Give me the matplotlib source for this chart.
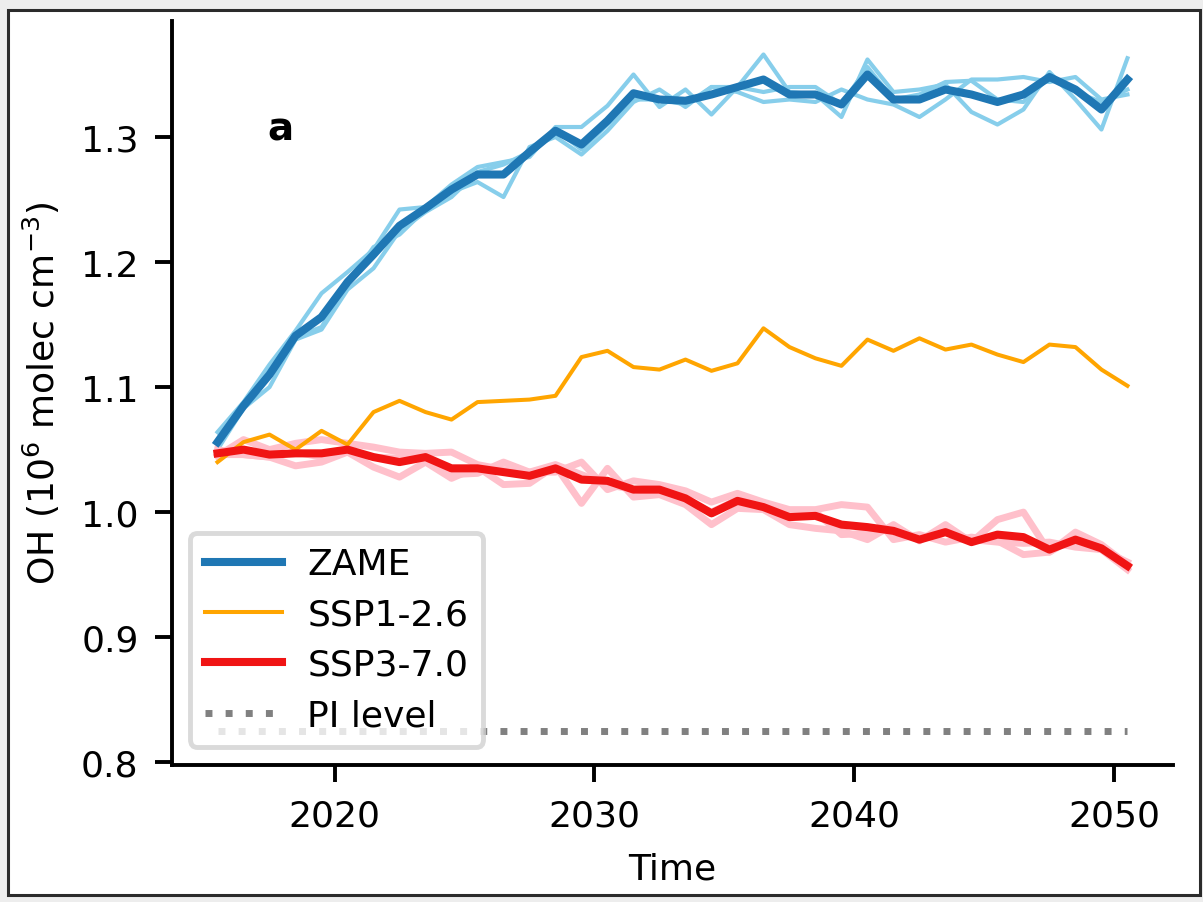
import numpy as np
import matplotlib
matplotlib.use("Agg")
import matplotlib.pyplot as plt
from matplotlib.patches import Rectangle

# annual means, mid-year time axis
years = np.arange(2015.5, 2051.0, 1.0)

zame_mean = [1.056, 1.085, 1.110, 1.141, 1.156, 1.184, 1.206, 1.229, 1.243, 1.258,
             1.270, 1.270, 1.288, 1.305, 1.294, 1.313, 1.335, 1.330, 1.329, 1.334,
             1.340, 1.346, 1.334, 1.334, 1.326, 1.350, 1.330, 1.330, 1.338, 1.334,
             1.328, 1.334, 1.348, 1.338, 1.322, 1.346]
zame_members = [
    [1.064, 1.088, 1.118, 1.145, 1.175, 1.192, 1.210, 1.242, 1.244, 1.262,
     1.276, 1.280, 1.284, 1.308, 1.308, 1.325, 1.350, 1.324, 1.338, 1.318,
     1.340, 1.366, 1.336, 1.334, 1.316, 1.362, 1.336, 1.338, 1.342, 1.320,
     1.310, 1.322, 1.352, 1.330, 1.306, 1.363],
    [1.056, 1.084, 1.112, 1.140, 1.148, 1.182, 1.212, 1.222, 1.242, 1.256,
     1.264, 1.252, 1.292, 1.300, 1.286, 1.305, 1.328, 1.338, 1.324, 1.340,
     1.336, 1.328, 1.330, 1.328, 1.338, 1.330, 1.326, 1.316, 1.330, 1.346,
     1.346, 1.348, 1.344, 1.348, 1.330, 1.334],
    [1.050, 1.083, 1.100, 1.138, 1.146, 1.178, 1.195, 1.225, 1.240, 1.252,
     1.272, 1.278, 1.288, 1.306, 1.290, 1.310, 1.330, 1.330, 1.326, 1.340,
     1.340, 1.336, 1.340, 1.340, 1.326, 1.356, 1.330, 1.334, 1.344, 1.345,
     1.330, 1.328, 1.348, 1.336, 1.328, 1.338],
]

ssp126 = [1.040, 1.056, 1.062, 1.050, 1.065, 1.054, 1.080, 1.089, 1.080, 1.074,
          1.088, 1.089, 1.090, 1.093, 1.124, 1.129, 1.116, 1.114, 1.122, 1.113,
          1.119, 1.147, 1.132, 1.123, 1.117, 1.138, 1.129, 1.139, 1.130, 1.134,
          1.126, 1.120, 1.134, 1.132, 1.114, 1.101]

ssp370_mean = [1.047, 1.050, 1.046, 1.047, 1.047, 1.050, 1.044, 1.040, 1.044, 1.035,
               1.035, 1.032, 1.029, 1.035, 1.026, 1.025, 1.018, 1.018, 1.011, 0.999,
               1.009, 1.004, 0.996, 0.997, 0.990, 0.988, 0.985, 0.978, 0.984, 0.976,
               0.982, 0.980, 0.970, 0.978, 0.971, 0.957]
ssp370_members = [
    [1.050, 1.046, 1.044, 1.037, 1.040, 1.048, 1.036, 1.028, 1.040, 1.027,
     1.036, 1.022, 1.023, 1.037, 1.007, 1.035, 1.012, 1.014, 1.006, 0.990,
     1.003, 1.002, 0.990, 0.987, 0.985, 0.978, 0.990, 0.977, 0.990, 0.976,
     0.994, 1.000, 0.968, 0.980, 0.970, 0.954],
    [1.045, 1.058, 1.050, 1.055, 1.058, 1.055, 1.052, 1.048, 1.047, 1.048,
     1.038, 1.034, 1.032, 1.032, 1.040, 1.018, 1.025, 1.022, 1.017, 1.008,
     1.015, 1.008, 1.002, 1.002, 1.006, 1.004, 0.978, 0.982, 0.976, 0.980,
     0.977, 0.966, 0.968, 0.984, 0.974, 0.958],
    [1.046, 1.046, 1.044, 1.048, 1.044, 1.048, 1.044, 1.043, 1.045, 1.030,
     1.031, 1.040, 1.032, 1.038, 1.030, 1.022, 1.018, 1.020, 1.010, 1.000,
     1.010, 1.004, 0.997, 1.000, 0.982, 0.983, 0.988, 0.978, 0.984, 0.978,
     0.976, 0.975, 0.976, 0.972, 0.970, 0.960],
]

pi_level = 0.825

fig = plt.figure(figsize=(12.03, 9.03), dpi=100, facecolor="#ededed")
fig.patches.append(Rectangle((8 / 1203, 7 / 903), 1192 / 1203, 885 / 903,
                             transform=fig.transFigure, facecolor="white",
                             edgecolor="#2b2b2b", linewidth=2.2, zorder=-10))

ax = fig.add_axes([0.143, 0.152, 0.832, 0.824])
ax.patch.set_alpha(0)

for m in zame_members:
    ax.plot(years, m, color="skyblue", lw=3.0, zorder=2)
ax.plot(years, zame_mean, color="#1f77b4", lw=5.8, label="ZAME", zorder=3)

for m in ssp370_members:
    ax.plot(years, m, color="pink", lw=5.0, zorder=2)
ax.plot(years, ssp126, color="orange", lw=2.9, label="SSP1-2.6", zorder=3)
ax.plot(years, ssp370_mean, color="#f01414", lw=5.8, label="SSP3-7.0", zorder=4)

ax.plot([years[0], years[-1]], [pi_level, pi_level], color="gray", lw=5,
        linestyle=(0, (1, 1.9)), label="PI level", zorder=1)

fs = 26
ax.set_xticks([2020, 2030, 2040, 2050])
ax.set_yticks([0.8, 0.9, 1.0, 1.1, 1.2, 1.3])
ax.tick_params(labelsize=fs, length=12, width=2.8, pad=12)
ax.set_xlabel("Time", fontsize=fs, labelpad=14)
ax.set_ylabel("OH (10$^6$ molec cm$^{-3}$)", fontsize=fs, labelpad=14)
for s in ["top", "right"]:
    ax.spines[s].set_visible(False)
for s in ["left", "bottom"]:
    ax.spines[s].set_linewidth(2.8)

ax.text(0.108, 0.855, "a", transform=ax.transAxes, fontsize=28,
        fontweight="bold", ha="center", va="center")

leg = ax.legend(loc="lower left", fontsize=fs, handlelength=2.15,
                handletextpad=0.7, labelspacing=0.45)
leg.get_frame().set_linewidth(3.5)
leg.get_frame().set_edgecolor("0.82")

fig.savefig("out.png", dpi=100, facecolor=fig.get_facecolor())
